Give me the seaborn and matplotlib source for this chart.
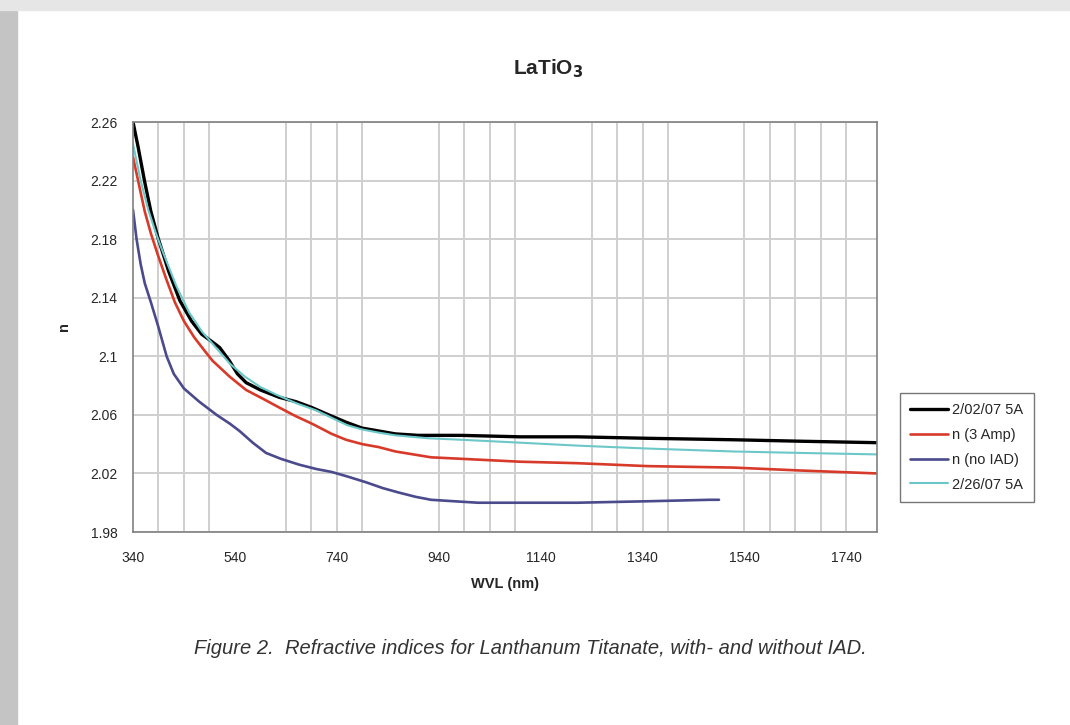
import numpy as np
import pandas as pd
import matplotlib
matplotlib.use('Agg')
import matplotlib.pyplot as plt
import seaborn as sns
from matplotlib.patches import Rectangle

# Values
wvl_black = [340, 350, 363, 375, 389, 410, 432, 455, 475, 495, 510, 529, 545, 562, 590, 627, 660,
             691, 724, 758, 789, 822, 855, 900, 984, 1100, 1212, 1350, 1518, 1650, 1800]
n_black = [2.260, 2.243, 2.219, 2.199, 2.181, 2.158, 2.138, 2.124, 2.115, 2.110, 2.106, 2.097, 2.088,
           2.082, 2.077, 2.072, 2.069, 2.065, 2.060, 2.055, 2.051, 2.049, 2.047, 2.046, 2.046, 2.045,
           2.045, 2.044, 2.043, 2.042, 2.041]

wvl_red = [340, 350, 363, 375, 389, 405, 422, 440, 460, 480, 496, 530, 562, 595, 627, 660, 691, 730,
           758, 790, 822, 855, 890, 925, 984, 1100, 1212, 1350, 1518, 1650, 1800]
n_red = [2.236, 2.220, 2.199, 2.184, 2.169, 2.153, 2.137, 2.124, 2.113, 2.104, 2.097, 2.086, 2.077,
         2.071, 2.065, 2.059, 2.054, 2.047, 2.043, 2.040, 2.038, 2.035, 2.033, 2.031, 2.030, 2.028,
         2.027, 2.025, 2.024, 2.022, 2.020]

wvl_blue = [340, 347, 355, 363, 375, 389, 406, 420, 440, 470, 504, 530, 549, 575, 601, 630, 666, 700,
            730, 760, 797, 830, 861, 895, 925, 970, 1017, 1100, 1212, 1350, 1472, 1490]
n_blue = [2.200, 2.180, 2.163, 2.150, 2.137, 2.121, 2.100, 2.088, 2.078, 2.069, 2.060, 2.054, 2.049,
          2.041, 2.034, 2.030, 2.026, 2.023, 2.021, 2.018, 2.014, 2.010, 2.007, 2.004, 2.002, 2.001,
          2.000, 2.000, 2.000, 2.001, 2.002, 2.002]

wvl_cyan = [340, 355, 370, 385, 400, 425, 450, 475, 500, 530, 560, 590, 620, 660, 700, 730, 760, 790,
            820, 855, 920, 984, 1100, 1212, 1350, 1518, 1650, 1800]
n_cyan = [2.245, 2.220, 2.200, 2.184, 2.170, 2.148, 2.130, 2.117, 2.107, 2.095, 2.086, 2.079, 2.074,
          2.068, 2.063, 2.058, 2.053, 2.050, 2.048, 2.046, 2.044, 2.043, 2.041, 2.039, 2.037, 2.035,
          2.034, 2.033]

labels = ['2/02/07 5A', 'n (3 Amp)', 'n (no IAD)', '2/26/07 5A']
colors = ['#000000', '#d83a2a', '#4a4a8c', '#6cc8c8']
widths = [2.4, 1.9, 1.9, 1.5]

y_ticks = [1.98, 2.02, 2.06, 2.10, 2.14, 2.18, 2.22, 2.26]
y_ticklabels = ['1.98', '2.02', '2.06', '2.1', '2.14', '2.18', '2.22', '2.26']
x_ticks = [340, 540, 740, 940, 1140, 1340, 1540, 1740]
x_grid = [390, 440, 490, 640, 690, 740, 790, 940, 990, 1040, 1090,
          1240, 1290, 1340, 1390, 1540, 1590, 1640, 1690, 1740]

sns.set_style('white')
plt.rcParams['font.family'] = ['Liberation Sans', 'DejaVu Sans']

fig = plt.figure(figsize=(10.7, 7.25), dpi=100)
fig.patch.set_facecolor('white')
# grey shadow borders on the left and top of the page
fig.patches.append(Rectangle((0, 0), 0.016, 1, transform=fig.transFigure, color='#c4c4c4', zorder=0))
fig.patches.append(Rectangle((0, 0.986), 1, 0.014, transform=fig.transFigure, color='#e6e6e6', zorder=0))

ax = fig.add_axes([0.1243, 0.2662, 0.6953, 0.5655])

for xg in x_grid:
    ax.axvline(xg, color='#cfcfcf', linewidth=1.4, zorder=0)

series = [(wvl_black, n_black), (wvl_red, n_red), (wvl_blue, n_blue), (wvl_cyan, n_cyan)]
for (xs, ys), lab, col, lw in zip(series, labels, colors, widths):
    df = pd.DataFrame({'WVL': xs, 'n': ys})
    sns.lineplot(data=df, x='WVL', y='n', ax=ax, color=col, linewidth=lw,
                 label=lab, sort=False, solid_joinstyle='round')

ax.set_xlim(340, 1800)
ax.set_ylim(1.98, 2.26)
ax.set_xticks(x_ticks)
ax.set_xticklabels([str(t) for t in x_ticks], fontsize=10)
ax.set_yticks(y_ticks)
ax.set_yticklabels(y_ticklabels, fontsize=10)
ax.grid(which='major', axis='y', color='#cfcfcf', linewidth=1.4)
ax.grid(which='major', axis='x', visible=False)
ax.tick_params(axis='x', which='major', length=3, color='#808080', direction='out', pad=11)
ax.tick_params(axis='y', which='major', length=3, color='#808080', direction='out', pad=8)
ax.set_axisbelow(True)
for s in ax.spines.values():
    s.set_color('#808080')
    s.set_linewidth(1.2)

ax.set_xlabel('WVL (nm)', fontsize=10.5, fontweight='bold', labelpad=8)
ax.set_ylabel('n', fontsize=10.5, fontweight='bold', labelpad=14)

fig.text(0.512, 0.905, r'LaTiO$_\mathbf{3}$', ha='center', va='center', fontsize=15, fontweight='bold')
fig.text(0.496, 0.106, 'Figure 2.  Refractive indices for Lanthanum Titanate, with- and without IAD.',
         ha='center', va='center', fontsize=14.5, style='italic', color='#333333')

leg = ax.legend(loc='center left', bbox_to_anchor=(1.021, 0.207), fontsize=10.5, frameon=True,
                fancybox=False, edgecolor='#555555', handlelength=2.6, borderpad=0.7,
                labelspacing=0.75, handletextpad=0.3)
leg.get_frame().set_linewidth(1.0)

fig.savefig('out.png', dpi=100)
